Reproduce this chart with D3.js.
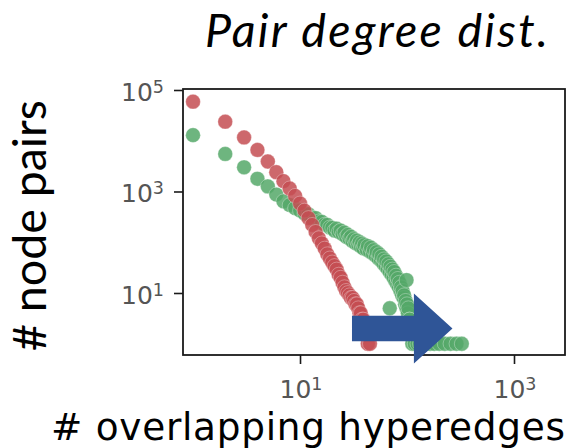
<!DOCTYPE html>
<html>
<head>
<meta charset="utf-8">
<script src="https://cdn.jsdelivr.net/npm/d3@7"></script>
<style>
  body { margin: 0; background: #fff; }
  svg { display: block; }
</style>
</head>
<body>
<svg id="chart" width="574" height="448"></svg>
<script>
// Pair degree distribution: [# overlapping hyperedges, # node pairs]
const redSeries = [
  [1, 58900], [2, 23700], [3, 11600], [4, 6600], [5, 3900], [6, 2400], [7, 1600],
  [8, 1150], [9, 820], [10, 580], [11, 420], [12, 300], [13, 220], [14, 160],
  [15, 120], [16, 95], [17, 75], [18, 58], [19, 48], [20, 40], [21, 34], [22, 29],
  [23, 23], [24, 20], [25, 16], [26, 13], [27, 11], [28, 10], [29, 9], [30, 8],
  [31, 8], [32, 7], [33, 6], [34, 6], [35, 5], [36, 4], [37, 4], [38, 3], [39, 3],
  [40, 2], [42, 2], [43, 1], [45, 1]
];

const greenSeries = [
  [1, 12900], [2, 5500], [3, 3000], [4, 1780], [5, 1260], [6, 870], [7, 640],
  [8, 540], [9, 470], [10, 420], [11, 370], [12, 355], [13, 305], [14, 300],
  [15, 258], [16, 252], [17, 222], [18, 220], [19, 196], [20, 192], [21, 170],
  [22, 185], [23, 160], [24, 170], [25, 145], [26, 155], [27, 128], [28, 140],
  [29, 118], [30, 128], [31, 105], [32, 115], [33, 96], [34, 108], [35, 90],
  [36, 100], [37, 82], [38, 94], [39, 76], [40, 88], [42, 72], [43, 84], [45, 66],
  [46, 78], [48, 60], [49, 70], [51, 54], [52, 64], [54, 48], [55, 58], [57, 44],
  [58, 52], [60, 38], [61, 46], [63, 34], [64, 42], [66, 30], [67, 37], [69, 26],
  [69, 5], [70, 33], [72, 23], [73, 29], [75, 20], [76, 26], [78, 17], [79, 22],
  [81, 15], [82, 19], [84, 13], [85, 16], [87, 11], [88, 13], [90, 9], [91, 11],
  [93, 8], [94, 9], [96, 6], [97, 7], [99, 18], [99, 5], [100, 6], [102, 4],
  [103, 5], [105, 3], [106, 3], [108, 2], [110, 2], [112, 1], [114, 2], [118, 1],
  [125, 1], [132, 1], [140, 1], [152, 1], [165, 1], [180, 1], [200, 1], [225, 1],
  [255, 1], [290, 1], [325, 1]
];

const xTickValues = [10, 1000];
const yTickValues = [10, 1000, 100000];
const xLimits = [0.806, 2997];
const yLimits = [0.6, 104600];

const titleText = "Pair degree dist.";
const xLabelText = "# overlapping hyperedges";
const yLabelText = "# node pairs";

// Arrow annotation in data space: tail, head base, tip, at y = 2
const arrowSpec = { tail: 30.6, headBase: 116, tip: 266, y: 2 };

const redColor = "#c44e52";
const greenColor = "#55a868";
const arrowColor = "#2f5597";

const svg = d3.select("#chart");
const plot = { left: 183, right: 565, top: 89, bottom: 355 };

const x = d3.scaleLog().domain(xLimits).range([plot.left, plot.right]);
const y = d3.scaleLog().domain(yLimits).range([plot.bottom, plot.top]);

const sansUI = "Lato, 'Open Sans', sans-serif";
const mplFont = "'DejaVu Sans', sans-serif";

// fit a text element to a target width by adjusting its font size
function fitWidth(sel, target) {
  const node = sel.node();
  const fs = parseFloat(sel.attr("font-size"));
  const w = node.getComputedTextLength();
  sel.attr("font-size", fs * target / w);
}

// fit a text element to a target width by spreading its letters
function spreadWidth(sel, target) {
  const node = sel.node();
  const w = node.getComputedTextLength();
  const n = sel.text().length;
  sel.attr("letter-spacing", (target - w) / (n - 1));
}

// scatter points
const dots = svg.append("g");
function drawSeries(data, color) {
  dots.append("g")
    .selectAll("circle")
    .data(data)
    .join("circle")
    .attr("cx", d => x(d[0]))
    .attr("cy", d => y(d[1]))
    .attr("r", 7.4)
    .attr("fill", color)
    .attr("fill-opacity", 0.85)
    .attr("stroke", "#fff")
    .attr("stroke-opacity", 0.45)
    .attr("stroke-width", 0.7);
}
drawSeries(greenSeries, greenColor);
drawSeries(redSeries, redColor);

// frame
svg.append("rect")
  .attr("x", plot.left).attr("y", plot.top)
  .attr("width", plot.right - plot.left)
  .attr("height", plot.bottom - plot.top)
  .attr("fill", "none")
  .attr("stroke", "#1a1a1a")
  .attr("stroke-width", 1.8);

// x axis ticks
const xAxis = d3.axisBottom(x).tickValues(xTickValues).tickSize(9).tickFormat("");
const gx = svg.append("g").attr("transform", `translate(0,${plot.bottom})`).call(xAxis);
gx.select(".domain").remove();
gx.selectAll(".tick line").attr("stroke", "#1a1a1a").attr("stroke-width", 1.6);

// y axis ticks
const yAxis = d3.axisLeft(y).tickValues(yTickValues).tickSize(9).tickFormat("");
const gy = svg.append("g").attr("transform", `translate(${plot.left},0)`).call(yAxis);
gy.select(".domain").remove();
gy.selectAll(".tick line").attr("stroke", "#1a1a1a").attr("stroke-width", 1.6);

// power-of-ten labels
const tickFs = 25;
function powLabel(g, v, anchor) {
  const exp = Math.round(Math.log10(v));
  const t = g.append("text")
    .attr("text-anchor", anchor)
    .attr("font-family", mplFont)
    .attr("font-size", tickFs)
    .attr("fill", "#555");
  t.append("tspan").text("10");
  t.append("tspan").attr("dy", -8).attr("font-size", tickFs * 0.7).text(exp);
  return t;
}
xTickValues.forEach(v => {
  powLabel(svg, v, "middle")
    .attr("transform", `translate(${x(v) + 1},${plot.bottom + 43})`);
});
yTickValues.forEach(v => {
  powLabel(svg, v, "end")
    .attr("transform", `translate(${plot.left - 19},${y(v) + 11})`);
});

// arrow annotation
const ay = y(arrowSpec.y);
const bodyH = 12.8, headH = 35;
const arrowPts = [
  [x(arrowSpec.tail), ay - bodyH],
  [x(arrowSpec.headBase), ay - bodyH],
  [x(arrowSpec.headBase), ay - headH],
  [x(arrowSpec.tip), ay],
  [x(arrowSpec.headBase), ay + headH],
  [x(arrowSpec.headBase), ay + bodyH],
  [x(arrowSpec.tail), ay + bodyH]
];
svg.append("polygon")
  .attr("points", arrowPts.map(p => p.join(",")).join(" "))
  .attr("fill", arrowColor);

// title
const title = svg.append("text")
  .attr("x", 205).attr("y", 46.5)
  .attr("font-family", sansUI)
  .attr("font-style", "italic")
  .attr("font-size", 46.5)
  .attr("fill", "#000")
  .text(titleText);
spreadWidth(title, 343);

// x label
const xl = svg.append("text")
  .attr("x", 51).attr("y", 439.5)
  .attr("font-family", mplFont)
  .attr("font-size", 37.4)
  .attr("fill", "#000")
  .text(xLabelText);
spreadWidth(xl, 514);

// y label
const yl = svg.append("text")
  .attr("transform", "translate(46,351) rotate(-90)")
  .attr("font-family", sansUI)
  .attr("font-size", 40)
  .attr("fill", "#000")
  .text(yLabelText);
fitWidth(yl, 251);
</script>
</body>
</html>
